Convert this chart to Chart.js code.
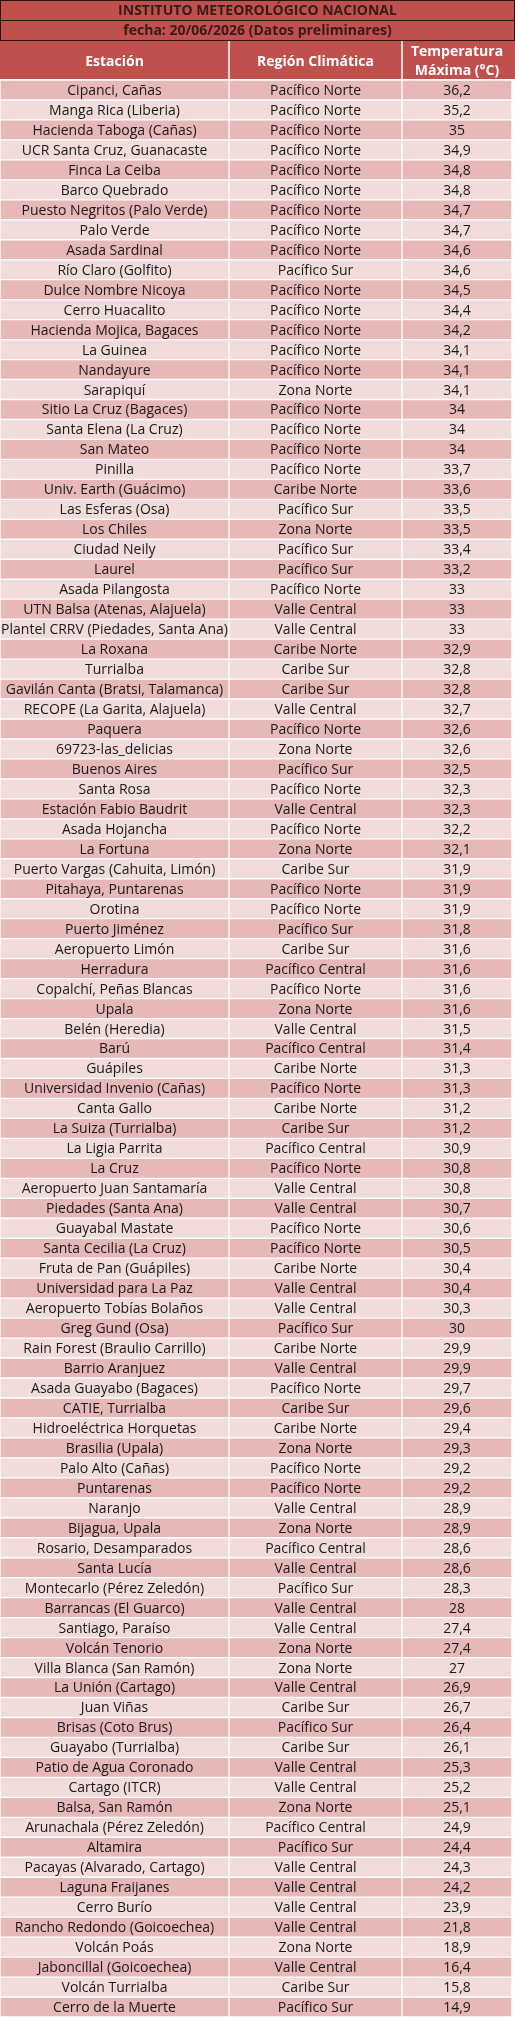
<!DOCTYPE html>
<html><head><meta charset="utf-8">
<script src="https://cdn.jsdelivr.net/npm/chart.js@4/dist/chart.umd.min.js"></script>
<style>html,body{margin:0;padding:0;background:#fff}</style>
</head><body>
<canvas id="c" width="515" height="2021"></canvas>
<script>
const titleLines = ["INSTITUTO METEOROLÓGICO NACIONAL", "fecha: 20/06/2026 (Datos preliminares)"];
const headers = ["Estación", "Región Climática", ["Temperatura", "Máxima (°C)"]];
const stations = ["Cipanci, Cañas","Manga Rica (Liberia)","Hacienda Taboga (Cañas)","UCR Santa Cruz, Guanacaste","Finca La Ceiba","Barco Quebrado","Puesto Negritos (Palo Verde)","Palo Verde","Asada Sardinal","Río Claro (Golfito)","Dulce Nombre Nicoya","Cerro Huacalito","Hacienda Mojica, Bagaces","La Guinea","Nandayure","Sarapiquí","Sitio La Cruz (Bagaces)","Santa Elena (La Cruz)","San Mateo","Pinilla","Univ. Earth (Guácimo)","Las Esferas (Osa)","Los Chiles","Ciudad Neily","Laurel","Asada Pilangosta","UTN Balsa (Atenas, Alajuela)","Plantel CRRV (Piedades, Santa Ana)","La Roxana","Turrialba","Gavilán Canta (Bratsi, Talamanca)","RECOPE (La Garita, Alajuela)","Paquera","69723-las_delicias","Buenos Aires","Santa Rosa","Estación Fabio Baudrit","Asada Hojancha","La Fortuna","Puerto Vargas (Cahuita, Limón)","Pitahaya, Puntarenas","Orotina","Puerto Jiménez","Aeropuerto Limón","Herradura","Copalchí, Peñas Blancas","Upala","Belén (Heredia)","Barú","Guápiles","Universidad Invenio (Cañas)","Canta Gallo","La Suiza (Turrialba)","La Ligia Parrita","La Cruz","Aeropuerto Juan Santamaría","Piedades (Santa Ana)","Guayabal Mastate","Santa Cecilia (La Cruz)","Fruta de Pan (Guápiles)","Universidad para La Paz","Aeropuerto Tobías Bolaños","Greg Gund (Osa)","Rain Forest (Braulio Carrillo)","Barrio Aranjuez","Asada Guayabo (Bagaces)","CATIE, Turrialba","Hidroeléctrica Horquetas","Brasilia (Upala)","Palo Alto (Cañas)","Puntarenas","Naranjo","Bijagua, Upala","Rosario, Desamparados","Santa Lucía","Montecarlo (Pérez Zeledón)","Barrancas (El Guarco)","Santiago, Paraíso","Volcán Tenorio","Villa Blanca (San Ramón)","La Unión (Cartago)","Juan Viñas","Brisas (Coto Brus)","Guayabo (Turrialba)","Patio de Agua Coronado","Cartago (ITCR)","Balsa, San Ramón","Arunachala (Pérez Zeledón)","Altamira","Pacayas (Alvarado, Cartago)","Laguna Fraijanes","Cerro Burío","Rancho Redondo (Goicoechea)","Volcán Poás","Jaboncillal (Goicoechea)","Volcán Turrialba","Cerro de la Muerte"];
const PN="Pacífico Norte",PS="Pacífico Sur",PC="Pacífico Central",ZN="Zona Norte",CN="Caribe Norte",CS="Caribe Sur",VC="Valle Central";
const regions = [PN,PN,PN,PN,PN,PN,PN,PN,PN,PS,PN,PN,PN,PN,PN,ZN,PN,PN,PN,PN,CN,PS,ZN,PS,PS,PN,VC,VC,CN,CS,CS,VC,PN,ZN,PS,PN,VC,PN,ZN,CS,PN,PN,PS,CS,PC,PN,ZN,VC,PC,CN,PN,CN,CS,PC,PN,VC,VC,PN,PN,CN,VC,VC,PS,CN,VC,PN,CS,CN,ZN,PN,PN,VC,ZN,PC,VC,PS,VC,VC,ZN,ZN,VC,CS,PS,CS,VC,VC,ZN,PC,PS,VC,VC,VC,VC,ZN,VC,CS,PS];
const tmax = [36.2,35.2,35,34.9,34.8,34.8,34.7,34.7,34.6,34.6,34.5,34.4,34.2,34.1,34.1,34.1,34,34,34,33.7,33.6,33.5,33.5,33.4,33.2,33,33,33,32.9,32.8,32.8,32.7,32.6,32.6,32.5,32.3,32.3,32.2,32.1,31.9,31.9,31.9,31.8,31.6,31.6,31.6,31.6,31.5,31.4,31.3,31.3,31.2,31.2,30.9,30.8,30.8,30.7,30.6,30.5,30.4,30.4,30.3,30,29.9,29.9,29.7,29.6,29.4,29.3,29.2,29.2,28.9,28.9,28.6,28.6,28.3,28,27.4,27.4,27,26.9,26.7,26.4,26.1,25.3,25.2,25.1,24.9,24.4,24.3,24.2,23.9,21.8,18.9,16.4,15.8,14.9];

const EDGES=[0,229,402,512];
const FONT='"Liberation Sans Narrow","Open Sans",sans-serif';
const rowBg=stations.map((_,i)=>i%2===0?'#e6b8b7':'#f2dcdb');
const fmt=v=>String(v).replace('.',',');
const colText=[stations,regions,tmax.map(fmt)];

const tablePlugin={id:'tbl',
 afterDatasetsDraw(ch){
  const ctx=ch.ctx,xs=ch.scales.x,ys=ch.scales.y;
  ctx.save();ctx.textAlign='center';ctx.textBaseline='middle';
  ctx.fillStyle='#1a1a1a';ctx.font='14px '+FONT;
  for(let c=0;c<3;c++){
   const cx=(xs.getPixelForValue(EDGES[c])+xs.getPixelForValue(EDGES[c+1]))/2;
   colText[c].forEach((t,i)=>ctx.fillText(t,cx,ys.getPixelForValue(i)+1));
  }
  // header area
  const top=ch.chartArea.top,L=xs.getPixelForValue(0),R=ch.width;
  ctx.fillStyle='#c0504d';ctx.fillRect(0,0,R,top-1);
  ctx.strokeStyle='#2a1515';ctx.lineWidth=1;
  ctx.strokeRect(0.5,0.5,R-1,20);ctx.strokeRect(0.5,20.5,R-1,20);
  ctx.fillStyle='#3a1a1a';ctx.font='bold 14px '+FONT;
  ctx.fillText(titleLines[0],R/2,11);ctx.fillText(titleLines[1],R/2,31);
  ctx.strokeStyle='#ffffff';ctx.lineWidth=1.5;
  ctx.fillStyle='#ffffff';
  for(let c=0;c<3;c++){
   const x0=xs.getPixelForValue(EDGES[c]),x1=xs.getPixelForValue(EDGES[c+1]),cx=(x0+x1)/2;
   if(c>0){ctx.beginPath();ctx.moveTo(x0,41);ctx.lineTo(x0,top);ctx.stroke();}
   const h=headers[c];
   if(Array.isArray(h)){ctx.fillText(h[0],cx,52);ctx.fillText(h[1],cx,71);}
   else ctx.fillText(h,cx,62);
  }
  ctx.restore();
 }};

new Chart(document.getElementById('c'),{
 type:'bar',
 data:{labels:stations,datasets:[0,1,2].map(c=>({
  data:stations.map(()=>[EDGES[c],EDGES[c+1]]),
  backgroundColor:rowBg,borderColor:'#ffffff',borderWidth:1,borderSkipped:false,
  grouped:false,barPercentage:1,categoryPercentage:1}))},
 options:{indexAxis:'y',responsive:false,animation:false,devicePixelRatio:1,
  layout:{padding:{top:80,left:0,right:3,bottom:4}},
  plugins:{legend:{display:false},tooltip:{enabled:false}},
  scales:{x:{type:'linear',min:0,max:512,display:false},
          y:{display:false,offset:true}}},
 plugins:[tablePlugin]});
</script>
</body></html>
